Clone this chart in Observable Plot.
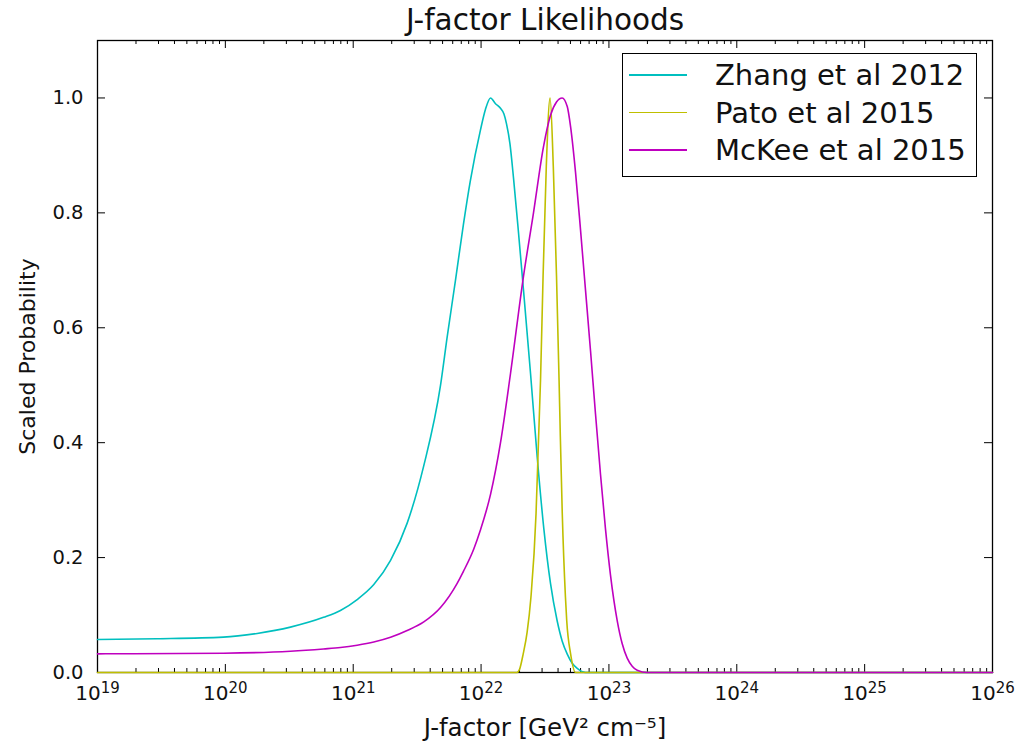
<!DOCTYPE html>
<html>
<head>
<meta charset="utf-8">
<script src="https://cdn.jsdelivr.net/npm/d3@7"></script>
<script src="https://cdn.jsdelivr.net/npm/@observablehq/plot@0.6"></script>
<style>
  body { margin: 0; background: #fff; }
  #wrap { position: relative; width: 1020px; height: 744px; overflow: hidden; }
  #legend { position: absolute; left: 622px; top: 53px; width: 355px; height: 124px; box-sizing: border-box;
            border: 1.5px solid #000; background: #fff; font-family: "DejaVu Sans", sans-serif; font-size: 29px; color: #111; }
  .item { position: absolute; left: 0; height: 36px; width: 100%; }
  .swatch { position: absolute; left: 6px; width: 58px; height: 1.8px; top: 17px; }
  .lab { position: absolute; left: 92px; top: 0; line-height: 36px; white-space: nowrap; }
</style>
</head>
<body>
<div id="wrap"></div>
<script>
// ---- data (log10 of J-factor in GeV^2 cm^-5, scaled probability) ----
const seriesNames = ["Zhang et al 2012", "Pato et al 2015", "McKee et al 2015"];
const seriesColors = ["#00bfbf", "#bfbf00", "#bf00bf"];

const zhangLogJ = [19.0, 19.467, 19.985, 20.249, 20.509, 20.768, 20.90, 21.031, 21.161, 21.292, 21.422, 21.552, 21.683, 21.735, 21.80, 21.862, 21.917, 21.995, 22.034, 22.074, 22.113, 22.152, 22.179, 22.199, 22.226, 22.254, 22.293, 22.332, 22.387, 22.439, 22.491, 22.543, 22.595, 22.634, 22.674, 22.713, 22.752, 22.817, 26.0];
const zhangP    = [0.0575, 0.0587, 0.0615, 0.068, 0.079, 0.096, 0.108, 0.127, 0.153, 0.195, 0.26, 0.36, 0.50, 0.584, 0.683, 0.78, 0.857, 0.944, 0.98, 1.0, 0.99, 0.982, 0.972, 0.955, 0.92, 0.86, 0.765, 0.665, 0.52, 0.375, 0.25, 0.155, 0.09, 0.055, 0.032, 0.016, 0.007, 0.0, 0.0];

const patoLogJ = [19.0, 22.28, 22.30, 22.33, 22.36, 22.39, 22.43, 22.45, 22.465, 22.485, 22.51, 22.54, 22.565, 22.59, 22.61, 22.62, 22.635, 22.66, 22.67, 22.70, 22.74, 26.0];
const patoP    = [0, 0, 0.005, 0.033, 0.07, 0.131, 0.277, 0.41, 0.509, 0.69, 0.88, 1.0, 0.88, 0.69, 0.509, 0.41, 0.277, 0.131, 0.09, 0.033, 0, 0];

const mckeeLogJ = [19.0, 19.985, 20.509, 20.768, 20.90, 21.031, 21.161, 21.292, 21.422, 21.552, 21.683, 21.813, 21.862, 21.943, 21.995, 22.074, 22.152, 22.230, 22.332, 22.410, 22.488, 22.543, 22.590, 22.634, 22.674, 22.700, 22.739, 22.778, 22.817, 22.856, 22.895, 22.934, 22.973, 23.012, 23.065, 23.104, 23.143, 23.182, 23.221, 23.299, 26.0];
const mckeeP    = [0.0325, 0.0336, 0.037, 0.041, 0.0435, 0.0475, 0.053, 0.0612, 0.073, 0.088, 0.113, 0.155, 0.176, 0.215, 0.248, 0.31, 0.40, 0.52, 0.69, 0.80, 0.915, 0.97, 0.993, 1.0, 0.985, 0.95, 0.87, 0.77, 0.665, 0.56, 0.45, 0.345, 0.25, 0.17, 0.09, 0.05, 0.025, 0.011, 0.004, 0, 0];

const xExponents = [19, 20, 21, 22, 23, 24, 25, 26];
const yTicks = [0.0, 0.2, 0.4, 0.6, 0.8, 1.0];

const titleText = "J-factor Likelihoods";
const xLabelText = "J-factor [GeV² cm⁻⁵]";
const yLabelText = "Scaled Probability";

// ---- build tables ----
function rows(logJ, p, name) { return logJ.map((e, i) => ({ J: Math.pow(10, e), P: p[i], series: name })); }
const data = [
  ...rows(zhangLogJ, zhangP, seriesNames[0]),
  ...rows(patoLogJ, patoP, seriesNames[1]),
  ...rows(mckeeLogJ, mckeeP, seriesNames[2])
];
const majorX = xExponents.map(e => Math.pow(10, e));
const minorX = [];
for (const e of xExponents.slice(0, -1)) for (let k = 2; k <= 9; k++) minorX.push(k * Math.pow(10, e));

const W = 1020, H = 744, mL = 97, mR = 28, mT = 40, mB = 72;
const fw = W - mL - mR, fh = H - mT - mB;
const font = "DejaVu Sans";

const svg = Plot.plot({
  width: W, height: H,
  marginLeft: mL, marginRight: mR, marginTop: mT, marginBottom: mB,
  style: { fontFamily: font, fontSize: "19px", background: "#fff", color: "#111" },
  x: { type: "log", domain: [1e19, 1e26] },
  y: { domain: [0, 1.1] },
  color: { domain: seriesNames, range: seriesColors },
  marks: [
    Plot.frame({ stroke: "#000", strokeWidth: 1.3 }),
    // inward ticks (matplotlib classic style) on all four sides
    Plot.tickX(majorX, { x: d => d, insetTop: fh - 8, stroke: "#000" }),
    Plot.tickX(majorX, { x: d => d, insetBottom: fh - 8, stroke: "#000" }),
    Plot.tickX(minorX, { x: d => d, insetTop: fh - 4, stroke: "#000" }),
    Plot.tickX(minorX, { x: d => d, insetBottom: fh - 4, stroke: "#000" }),
    Plot.tickY(yTicks, { y: d => d, insetRight: fw - 8, stroke: "#000" }),
    Plot.tickY(yTicks, { y: d => d, insetLeft: fw - 8, stroke: "#000" }),
    Plot.axisX({ ticks: majorX, tickSize: 0, tickPadding: 13, fontSize: 20, label: null,
                 tickFormat: d => "10^" + Math.round(Math.log10(d)) }),
    Plot.axisY({ ticks: yTicks, tickSize: 0, tickPadding: 14, fontSize: 19.5, label: null,
                 tickFormat: d3.format(".1f") }),
    Plot.line(data, { x: "J", y: "P", z: "series", stroke: "series", strokeWidth: 1.6, curve: "monotone-x" }),
    Plot.text([titleText], { frameAnchor: "top", lineAnchor: "middle", dy: -20, fontSize: 29.5, fill: "#111" }),
    Plot.text([xLabelText], { frameAnchor: "bottom", lineAnchor: "middle", dy: 56, fontSize: 24.5, fill: "#111" }),
    Plot.text([yLabelText], { frameAnchor: "left", textAnchor: "middle", lineAnchor: "middle", dx: -70, rotate: -90, fontSize: 22, fill: "#111" })
  ]
});

// superscript exponents on the x tick labels
d3.select(svg).selectAll('g[aria-label="x-axis tick label"] text').each(function () {
  const t = d3.select(this);
  const parts = t.text().split("^");
  if (parts.length !== 2) return;
  t.text(parts[0]);
  t.append("tspan").attr("dy", "-0.45em").attr("font-size", "15px").text(parts[1]);
});

const wrap = document.getElementById("wrap");
wrap.appendChild(svg);

// legend
const legend = document.createElement("div");
legend.id = "legend";
seriesNames.forEach((name, i) => {
  const item = document.createElement("div");
  item.className = "item";
  item.style.top = (3 + i * 37.5) + "px";
  const sw = document.createElement("div");
  sw.className = "swatch";
  sw.style.backgroundColor = seriesColors[i];
  const lab = document.createElement("div");
  lab.className = "lab";
  lab.textContent = name;
  item.appendChild(sw); item.appendChild(lab);
  legend.appendChild(item);
});
wrap.appendChild(legend);
</script>
</body>
</html>
